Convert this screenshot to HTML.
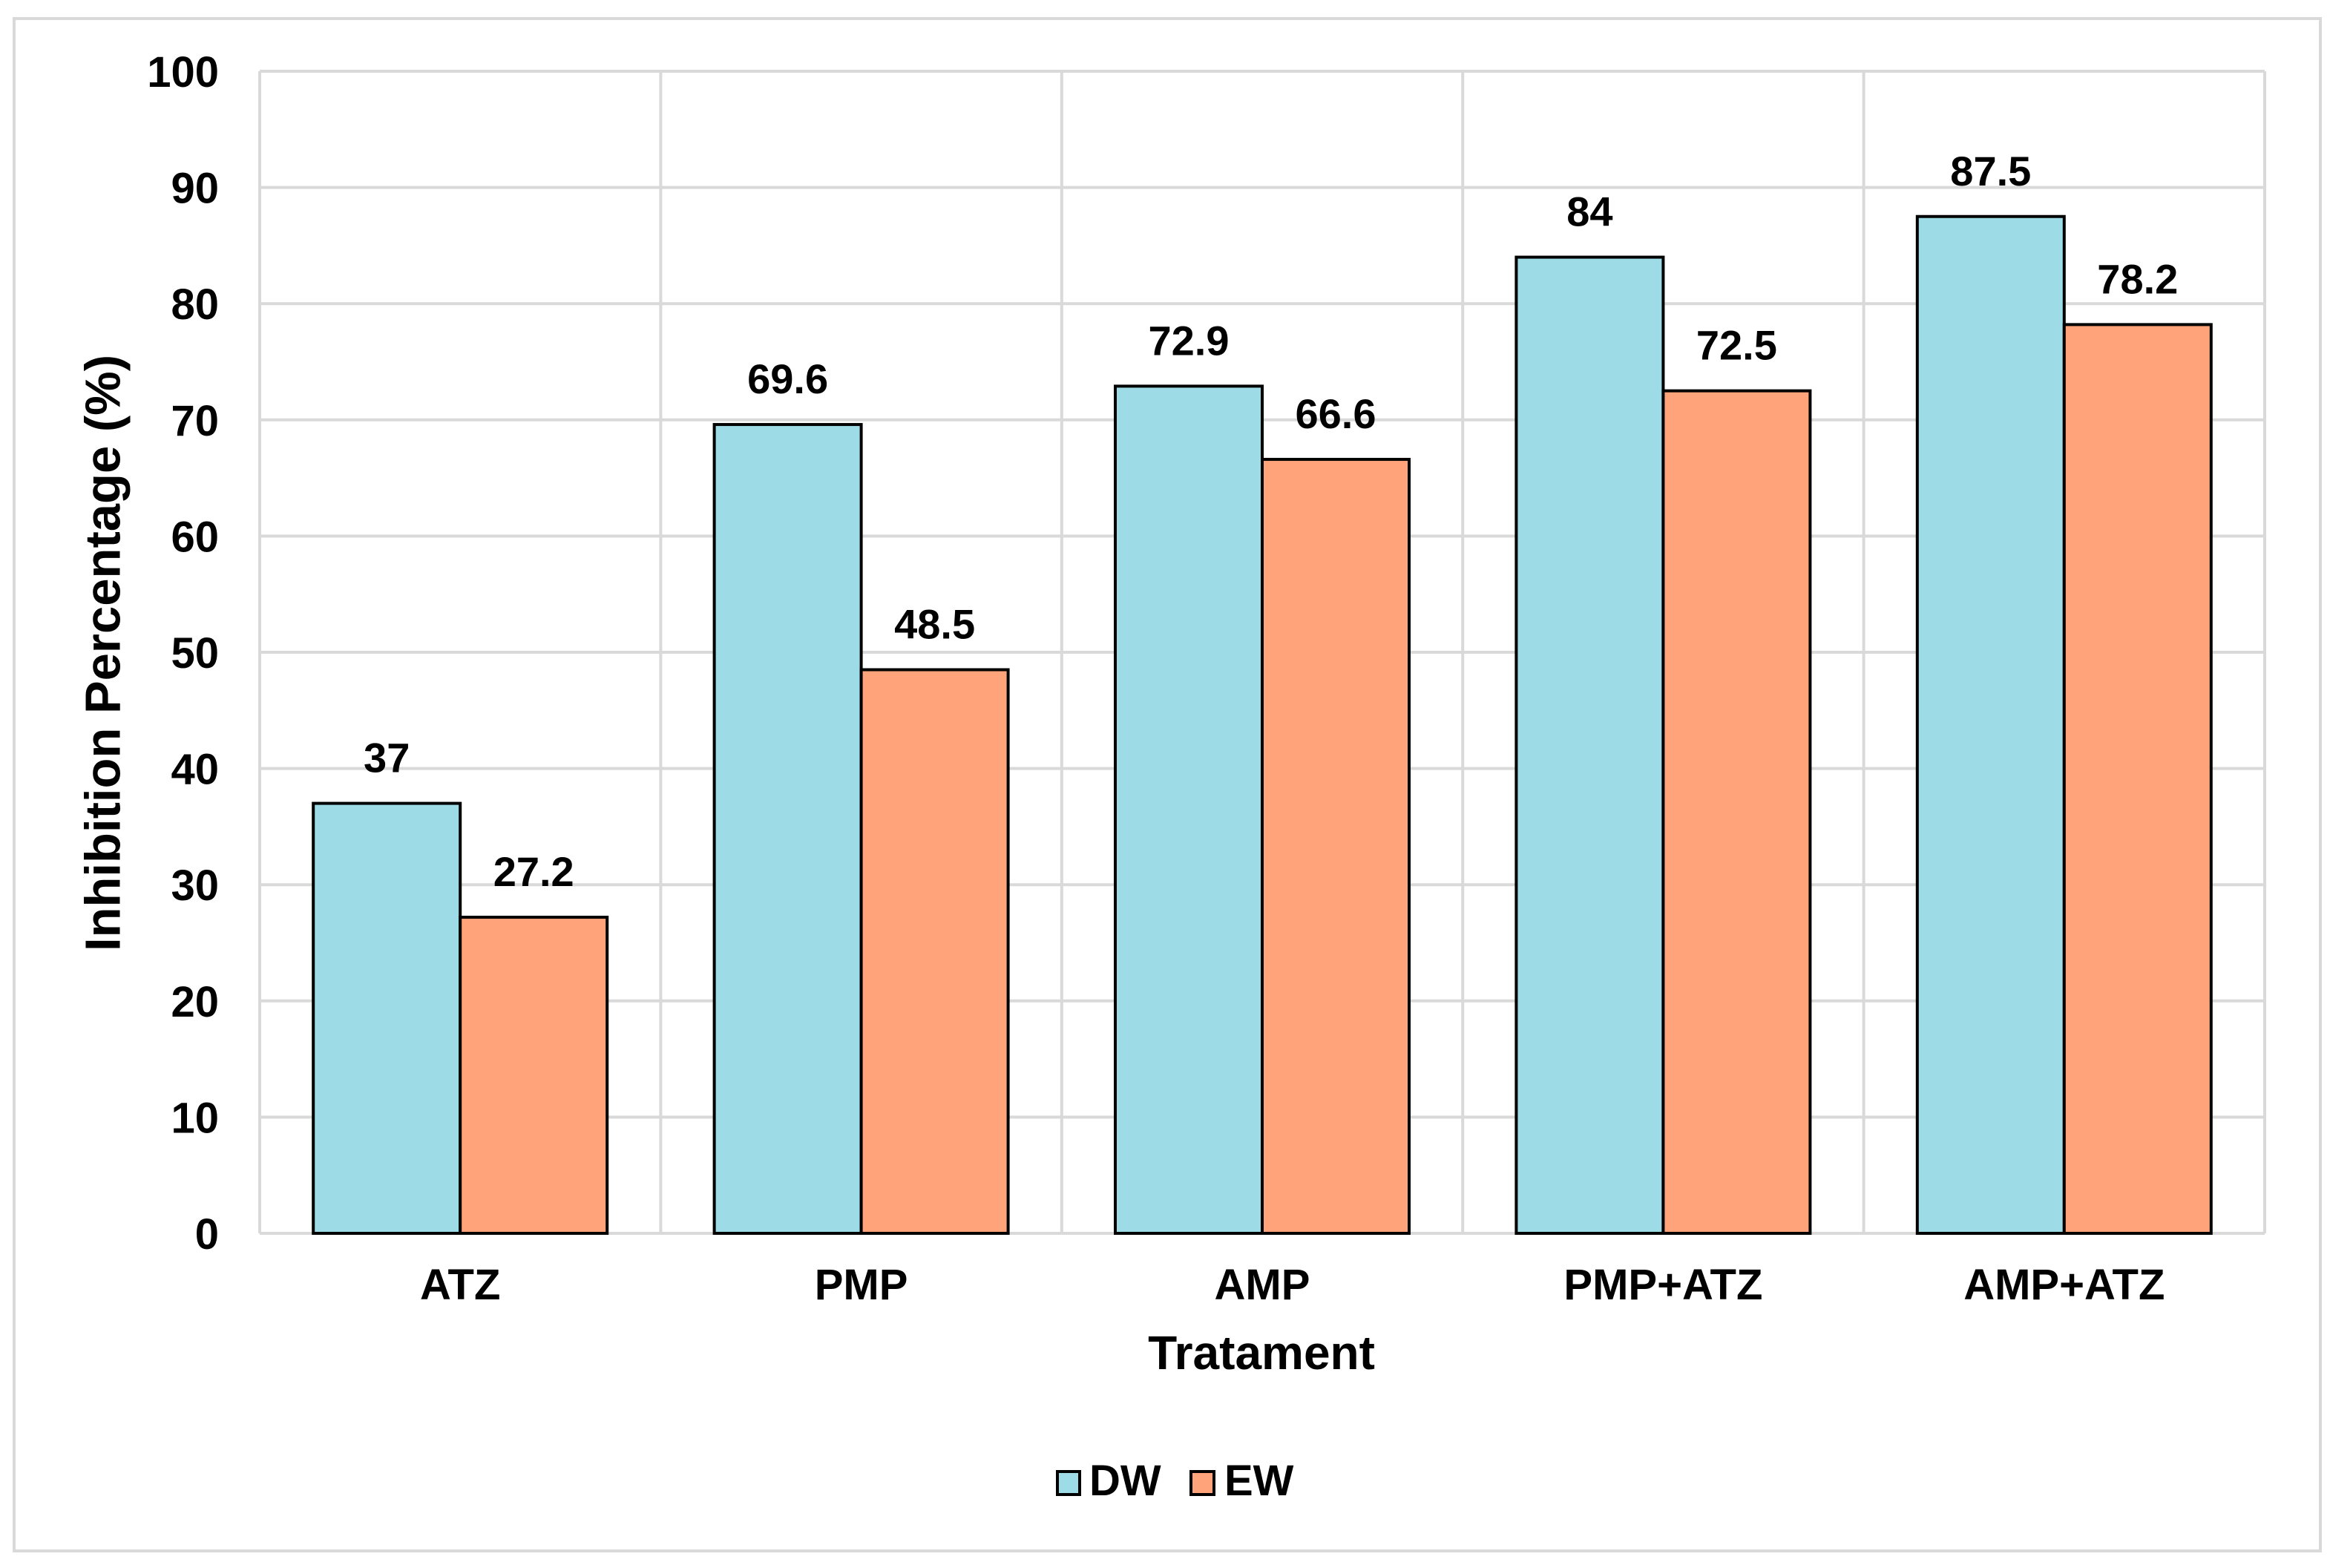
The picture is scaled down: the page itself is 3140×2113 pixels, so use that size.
<!DOCTYPE html>
<html><head><meta charset="utf-8"><style>
html,body{margin:0;padding:0;background:#fff;}
svg{display:block;font-family:"Liberation Sans",Arial,sans-serif;font-weight:bold;}
</style></head><body>
<svg id="chart" width="3140" height="2113" viewBox="0 0 3140 2113" xmlns="http://www.w3.org/2000/svg">
<rect x="19" y="25" width="3108" height="2065" fill="#fff" stroke="#d9d9d9" stroke-width="4"/>
<g id="grid"></g>
<g id="bars"></g>
<g id="labels"></g>
<text x="144" y="880" font-size="67" text-anchor="middle" dominant-baseline="middle" transform="rotate(-90 144 880)">Inhibition Percentage (%)</text>
<text x="1700" y="1845" font-size="64" text-anchor="middle">Tratament</text>
<g>
<rect x="1425" y="1983" width="30" height="31" fill="#9ddbe6" stroke="#000" stroke-width="4"/>
<text x="1468" y="2015" font-size="58">DW</text>
<rect x="1605" y="1983" width="31" height="31" fill="#ffa37a" stroke="#000" stroke-width="4"/>
<text x="1650" y="2015" font-size="58">EW</text>
</g>
</svg>
<script>
const categories = ["ATZ","PMP","AMP","PMP+ATZ","AMP+ATZ"];
const dwValues = [37, 69.6, 72.9, 84, 87.5];
const ewValues = [27.2, 48.5, 66.6, 72.5, 78.2];
const yTicks = [0,10,20,30,40,50,60,70,80,90,100];

const NS = "http://www.w3.org/2000/svg";
const plotL = 350, plotR = 3052, plotT = 96, plotB = 1662, yMax = 100;
const bandW = (plotR - plotL) / categories.length;
const barW = 198;
function yScale(v){ return plotB - (v / yMax) * (plotB - plotT); }
function xBand(i){ return plotL + i * bandW; }
function mk(tag, attrs, parent){
  const e = document.createElementNS(NS, tag);
  for (const k in attrs) e.setAttribute(k, attrs[k]);
  parent.appendChild(e);
  return e;
}
const grid = document.getElementById('grid');
const bars = document.getElementById('bars');
const labels = document.getElementById('labels');

yTicks.forEach(t => {
  const y = yScale(t);
  const l = mk('line', {x1: plotL, x2: plotR, y1: y, y2: y, stroke: '#d9d9d9', 'stroke-width': 4}, grid);
  
  
  const tx = mk('text', {x: 295, y: y + 21, 'font-size': 58, 'text-anchor': 'end'}, labels);
  tx.textContent = t;
  
  
});
for (let i = 0; i <= categories.length; i++) {
  const x = xBand(i);
  const l = mk('line', {x1: x, x2: x, y1: plotT, y2: plotB, stroke: '#d9d9d9', 'stroke-width': 4}, grid);
  
  
}
categories.forEach((c, i) => {
  const cx = xBand(i) + bandW / 2;
  [[dwValues[i], '#9ddbe6', cx - barW, 'bar-dw'], [ewValues[i], '#ffa37a', cx, 'bar-ew']].forEach(([v, col, x, nm]) => {
    const y = yScale(v);
    const r = mk('rect', {x: x, y: y, width: barW, height: plotB - y, fill: col, stroke: '#000', 'stroke-width': 4}, bars);
    
    
    const t = mk('text', {x: x + barW / 2, y: y - 42, 'font-size': 56, 'text-anchor': 'middle'}, labels);
    t.textContent = String(v);
    
    
  });
  const ct = mk('text', {x: cx, y: 1751, 'font-size': 58, 'text-anchor': 'middle'}, labels);
  ct.textContent = c;
  
  
});
</script>
</body></html>
